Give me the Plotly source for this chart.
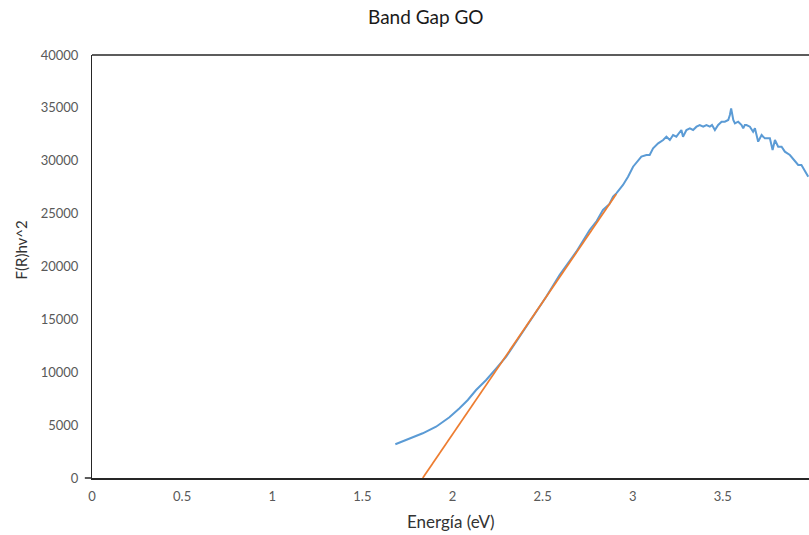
import plotly.graph_objects as go

# Blue measured curve (F(R)hv)^2 vs energy
energy = [1.683, 1.761, 1.835, 1.909, 1.983, 2.039, 2.085, 2.131, 2.187, 2.243, 2.298,
          2.372, 2.446, 2.520, 2.594, 2.687, 2.761, 2.800, 2.835, 2.870, 2.891, 2.909,
          2.946, 2.974, 3.002, 3.030, 3.048, 3.076, 3.094, 3.113, 3.141, 3.169, 3.187,
          3.206, 3.224, 3.242, 3.261, 3.270, 3.279, 3.298, 3.317, 3.335, 3.354, 3.372,
          3.391, 3.409, 3.428, 3.440, 3.456, 3.474, 3.493, 3.511, 3.530, 3.539, 3.546,
          3.558, 3.567, 3.585, 3.604, 3.613, 3.622, 3.631, 3.650, 3.668, 3.678, 3.696,
          3.715, 3.733, 3.761, 3.776, 3.789, 3.807, 3.826, 3.844, 3.872, 3.900, 3.918,
          3.936, 3.956, 3.974]
frhv2 = [3187, 3688, 4227, 4851, 5740, 6591, 7376, 8321, 9267, 10373, 11470,
         13362, 15253, 17144, 19196, 21400, 23452, 24300, 25343, 25900, 26600, 26920,
         27707, 28494, 29438, 30071, 30387, 30544, 30544, 31175, 31647, 31962, 32277,
         31962, 32435, 32277, 32750, 32908, 32277, 32908, 33066, 32908, 33224, 33381,
         33224, 33381, 33224, 33381, 32908, 33381, 33696, 33696, 33853, 34326, 34956,
         33853, 33538, 33696, 33381, 33066, 33381, 33381, 33224, 32750, 33066, 31805,
         32435, 32120, 32120, 31017, 31962, 31332, 31332, 30860, 30544, 29910, 29598,
         29598, 28966, 28490]

# Orange linear fit (Tauc extrapolation)
fit_x = [1.835, 2.909]
fit_y = [0, 26856]

x_ticks = [0, 0.5, 1, 1.5, 2, 2.5, 3, 3.5]
y_ticks = [0, 5000, 10000, 15000, 20000, 25000, 30000, 35000, 40000]

fig = go.Figure()
fig.add_trace(go.Scatter(x=energy, y=frhv2, mode="lines",
                         line=dict(color="#5B9BD5", width=2), showlegend=False))
fig.add_trace(go.Scatter(x=fit_x, y=fit_y, mode="lines",
                         line=dict(color="#ED7D31", width=1.75), showlegend=False))

font_family = "Lato, 'Open Sans', sans-serif"
fig.update_layout(
    width=809, height=535,
    margin=dict(l=92, r=0, t=55, b=57),
    paper_bgcolor="white", plot_bgcolor="white",
    font=dict(family=font_family, color="#595959", size=13),
    xaxis=dict(range=[0, 3.978], tickvals=x_ticks, ticktext=[str(v) for v in x_ticks],
               showgrid=False, zeroline=False, showline=True, linecolor="#262626",
               linewidth=1.5, ticks="", ticklabelstandoff=6,
               tickfont=dict(size=13, color="#595959")),
    yaxis=dict(range=[0, 40000], tickvals=y_ticks, ticktext=[str(v) for v in y_ticks],
               showgrid=False, zeroline=False, showline=True, linecolor="#262626",
               linewidth=1, ticks="", ticklen=0, ticklabelstandoff=10,
               tickfont=dict(size=13, color="#595959")),
    shapes=[dict(type="line", xref="paper", yref="paper", x0=0, x1=1, y0=1, y1=1,
                 line=dict(color="#262626", width=1.5)),
            dict(type="line", xref="paper", yref="paper", x0=-0.01, x1=0, y0=0, y1=0,
                 line=dict(color="#262626", width=1.5))],
    annotations=[
        dict(text="Band Gap GO", xref="paper", yref="paper", x=0.466, y=1,
             yshift=39, showarrow=False, xanchor="center", yanchor="middle",
             font=dict(size=19, color="#1a1a1a", family=font_family)),
        dict(text="Energía (eV)", xref="paper", yref="paper", x=0.5, y=0,
             yshift=-43, showarrow=False, xanchor="center", yanchor="middle",
             font=dict(size=17, color="#333333", family=font_family)),
        dict(text="F(R)hv^2", xref="paper", yref="paper", x=0, y=0.5,
             xshift=-72, yshift=16, textangle=-90, showarrow=False,
             xanchor="center", yanchor="middle",
             font=dict(size=15, color="#333333", family=font_family)),
    ],
)

fig.write_html("out.html")
